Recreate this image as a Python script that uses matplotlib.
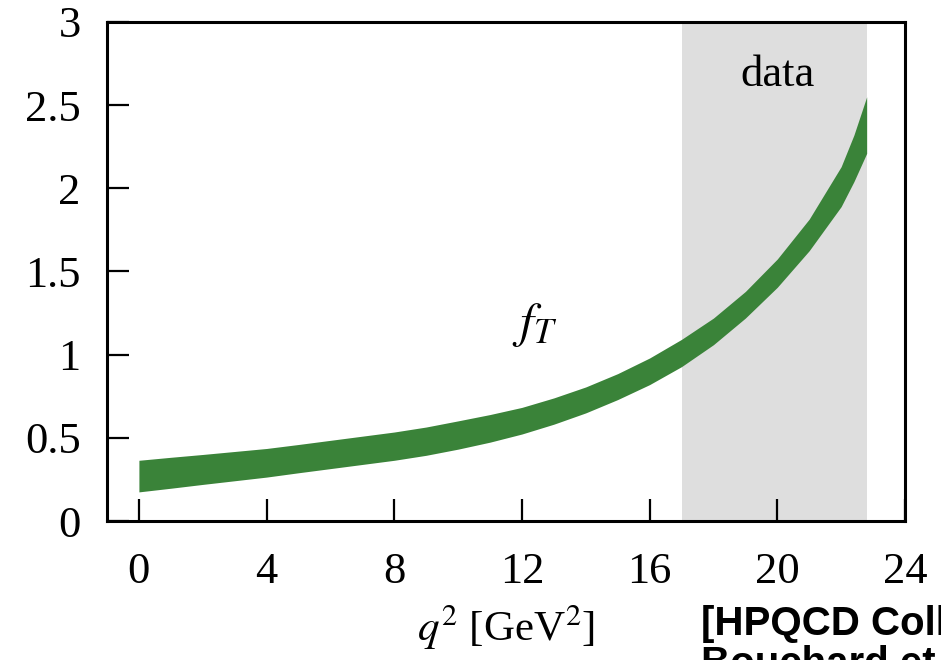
import matplotlib
matplotlib.use('Agg')
import matplotlib.pyplot as plt

# Tensor form factor band vs q^2, read at selected points
q2 = [0, 1, 2, 3, 4, 5, 6, 7, 8, 9, 10, 11, 12, 13, 14, 15, 16, 17, 18, 19, 20, 21, 22, 22.4, 22.8]
fT_lower = [0.175, 0.197, 0.22, 0.242, 0.264, 0.29, 0.315, 0.34, 0.365, 0.395, 0.432, 0.474,
            0.523, 0.582, 0.65, 0.73, 0.82, 0.928, 1.06, 1.22, 1.405, 1.625, 1.89, 2.04, 2.21]
fT_upper = [0.365, 0.383, 0.40, 0.418, 0.436, 0.46, 0.485, 0.51, 0.535, 0.565, 0.602, 0.64,
            0.683, 0.74, 0.806, 0.886, 0.98, 1.092, 1.22, 1.38, 1.575, 1.815, 2.13, 2.32, 2.55]

# q^2 range covered by lattice data
data_region = [17.0, 22.8]

x_ticks = [0, 4, 8, 12, 16, 20, 24]
y_ticks = [0, 0.5, 1, 1.5, 2, 2.5, 3]
y_ticklabels = ['0', '0.5', '1', '1.5', '2', '2.5', '3']

plt.rcParams['font.family'] = ['Liberation Serif', 'DejaVu Serif']
plt.rcParams['mathtext.fontset'] = 'stix'

fig = plt.figure(figsize=(9.41, 6.60), dpi=100)
ax = fig.add_axes([0.1137, 0.2106, 0.8480, 0.7561])

ax.axvspan(data_region[0], data_region[1], color='#dedede', lw=0, zorder=0)
ax.fill_between(q2, fT_lower, fT_upper, color='#3a8339', lw=0, zorder=2)

ax.set_xlim(-1, 24)
ax.set_ylim(0, 3)
ax.set_xticks(x_ticks)
ax.set_yticks(y_ticks)
ax.set_yticklabels(y_ticklabels)
ax.tick_params(direction='in', length=16, width=1.6, labelsize=32,
               top=False, right=False)
ax.tick_params(axis='x', pad=22)
ax.tick_params(axis='y', pad=19)
for s in ax.spines.values():
    s.set_linewidth(2.2)

ax.set_xlabel(r'$q^2$ [GeV$^2$]', fontsize=31, labelpad=8)

ax.text(12.4, 1.18, r'$f_T$', fontsize=36, ha='center', va='center')
ax.text(20.0, 2.68, 'data', fontsize=32, ha='center', va='center')

fig.text(0.745, 0.083, '[HPQCD Collaboration,\nBouchard et al. 2013]',
         family='Liberation Sans', weight='bold', fontsize=29,
         ha='left', va='top', linespacing=1.05)

fig.savefig('out.png', dpi=100)
